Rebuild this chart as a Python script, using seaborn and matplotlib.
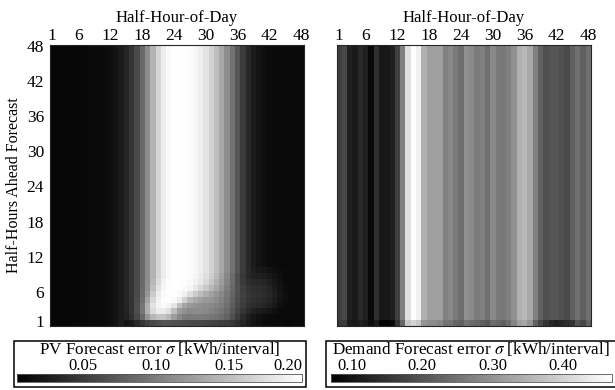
#----------------------------------------------------
"""
Forecast error spread of PV generation and demand,
per half-hour of day and per forecast horizon.
"""
#----------------------------------------------------
import numpy as np
import pandas as pd
import matplotlib
matplotlib.use('Agg')
import matplotlib.pyplot as plt
from matplotlib.patches import Rectangle
import seaborn as sns

#----------------------------------------------------
half_hours = list(range(1, 49))
tick_labels = [1, 6, 12, 18, 24, 30, 36, 42, 48]

# PV sigma per half-hour column, horizons 11..48 (no dependence on horizon)
pv_profile = [0.010, 0.010, 0.010, 0.010, 0.011, 0.011, 0.011, 0.012, 0.012, 0.013,
              0.014, 0.016, 0.020, 0.026, 0.034, 0.045, 0.062, 0.085, 0.112, 0.142,
              0.168, 0.186, 0.195, 0.199, 0.200, 0.199, 0.197, 0.193, 0.187, 0.178,
              0.165, 0.150, 0.133, 0.113, 0.092, 0.070, 0.050, 0.036, 0.026, 0.020,
              0.016, 0.014, 0.013, 0.012, 0.012, 0.012, 0.012, 0.012]

# PV sigma for horizons 1..10 (row 1 first), half-hours 15..46
pv_near_cols = list(range(15, 47))
pv_near = [
    [.020, .025, .035, .045, .055, .060, .065, .068, .068, .066, .065, .063, .062, .060, .060, .058,
     .056, .055, .052, .050, .046, .040, .033, .025, .020, .016, .014, .013, .012, .012, .011, .011],
    [.030, .042, .060, .085, .120, .145, .155, .155, .145, .125, .110, .100, .098, .100, .100, .098,
     .095, .092, .088, .080, .066, .052, .038, .028, .022, .018, .015, .014, .013, .012, .012, .012],
    [.032, .045, .065, .095, .140, .172, .185, .185, .175, .150, .125, .115, .110, .112, .112, .110,
     .105, .100, .095, .085, .072, .058, .046, .037, .031, .027, .024, .021, .017, .014, .013, .012],
    [.033, .045, .064, .095, .140, .178, .192, .196, .192, .180, .150, .130, .122, .118, .115, .112,
     .110, .105, .100, .090, .076, .062, .051, .043, .039, .036, .033, .029, .023, .017, .014, .013],
    [.034, .045, .063, .090, .130, .170, .190, .197, .198, .195, .185, .165, .145, .135, .128, .122,
     .118, .112, .105, .094, .079, .064, .053, .046, .042, .040, .037, .033, .027, .020, .015, .013],
    [.034, .045, .062, .088, .120, .160, .185, .196, .199, .199, .196, .188, .175, .160, .148, .138,
     .128, .120, .110, .097, .082, .066, .054, .047, .043, .041, .039, .035, .028, .021, .016, .013],
    [.034, .045, .062, .086, .115, .150, .178, .193, .198, .200, .200, .197, .192, .182, .170, .158,
     .145, .132, .118, .102, .085, .068, .053, .045, .041, .039, .037, .032, .026, .020, .015, .013],
    [.034, .045, .062, .085, .113, .145, .172, .190, .197, .200, .200, .199, .196, .190, .182, .170,
     .156, .140, .124, .106, .087, .066, .050, .040, .037, .035, .033, .028, .023, .018, .014, .013],
    [.034, .045, .062, .085, .112, .142, .168, .186, .195, .199, .200, .199, .197, .192, .185, .175,
     .162, .146, .128, .108, .088, .066, .048, .036, .031, .029, .027, .024, .020, .016, .013, .012],
    [.034, .045, .062, .085, .112, .142, .168, .186, .195, .199, .200, .199, .197, .193, .187, .178,
     .165, .150, .133, .113, .092, .070, .050, .036, .028, .024, .022, .019, .016, .014, .013, .012],
]

# demand sigma per half-hour column, horizons 2..48
demand_profile = [0.170, 0.183, 0.120, 0.111, 0.133, 0.120, 0.083, 0.145, 0.108, 0.108,
                  0.120, 0.170, 0.271, 0.421, 0.470, 0.446, 0.346, 0.321, 0.321, 0.321,
                  0.271, 0.283, 0.261, 0.243, 0.296, 0.286, 0.261, 0.271, 0.246, 0.286,
                  0.261, 0.258, 0.271, 0.296, 0.346, 0.359, 0.334, 0.271, 0.221, 0.195,
                  0.203, 0.203, 0.195, 0.186, 0.221, 0.246, 0.221, 0.246]
# demand sigma, one step ahead
demand_row1 = [0.160, 0.165, 0.115, 0.110, 0.120, 0.110, 0.090, 0.110, 0.075, 0.075,
               0.085, 0.150, 0.230, 0.380, 0.400, 0.380, 0.300, 0.290, 0.290, 0.280,
               0.250, 0.250, 0.230, 0.220, 0.250, 0.240, 0.230, 0.220, 0.210, 0.240,
               0.230, 0.220, 0.240, 0.280, 0.320, 0.330, 0.300, 0.220, 0.180, 0.150,
               0.130, 0.120, 0.130, 0.140, 0.150, 0.200, 0.180, 0.220]

pv_range = (0.005, 0.20)
pv_ticks = [0.05, 0.10, 0.15, 0.20]
demand_range = (0.07, 0.47)
demand_ticks = [0.10, 0.20, 0.30, 0.40]


#----------------------------------------------------
def build_frames():
    pv = np.tile(np.array(pv_profile), (48, 1))
    for i, row in enumerate(pv_near):
        pv[i, pv_near_cols[0] - 1:pv_near_cols[-1]] = row
    dem = np.tile(np.array(demand_profile), (48, 1))
    dem[0, :] = demand_row1
    # horizon 48 on top
    pv_df = pd.DataFrame(pv, index=half_hours, columns=half_hours).iloc[::-1]
    dem_df = pd.DataFrame(dem, index=half_hours, columns=half_hours).iloc[::-1]
    return pv_df, dem_df


def draw_panel(fig, ax, cax, df, vrange, ticks, label, box, show_y, squeeze_last):
    sns.heatmap(df, ax=ax, cmap='gray', vmin=vrange[0], vmax=vrange[1],
                cbar_ax=cax, cbar_kws={'orientation': 'horizontal'})
    ax.set_xticks([t - 0.5 for t in tick_labels])
    ax.set_xticklabels(tick_labels, rotation=0, fontsize=12.5)
    ax.xaxis.set_ticks_position('top')
    ax.xaxis.set_label_position('top')
    ax.set_xlabel('Half-Hour-of-Day', labelpad=4, fontsize=12)
    ax.tick_params(length=0, pad=1)
    if show_y:
        ax.set_yticks([48 - t + 0.5 for t in tick_labels])
        ax.set_yticklabels(tick_labels, rotation=0, fontsize=12.5)
        ax.tick_params(axis='y', pad=4)
        ax.set_ylabel('Half-Hours Ahead Forecast', labelpad=3, fontsize=11.5)
    else:
        ax.set_yticks([])
        ax.set_ylabel('')
    for s in ax.spines.values():
        s.set_visible(True)
        s.set_linewidth(0.8)

    cbar = ax.collections[0].colorbar
    cbar.set_ticks(ticks)
    cbar.set_ticklabels([f'{t:.2f}' for t in ticks])
    cax.xaxis.set_ticks_position('top')
    cax.tick_params(length=0, pad=0, labelsize=12)
    if squeeze_last:
        cax.get_xticklabels()[-1].set_horizontalalignment('right')
    cbar.outline.set_linewidth(0.6)
    cbar.outline.set_edgecolor('#555555')

    x0, y0, w, h = box
    fig.add_artist(Rectangle((x0, y0), w, h, transform=fig.transFigure,
                             fill=False, lw=1.1, ec='black'))
    fig.text(x0 + w / 2, 1 - 348.5 / 390, label, ha='center', va='center', fontsize=12.3)


#----------------------------------------------------
def main():
    sns.set_theme(style='white')
    plt.rcParams['font.family'] = ['Liberation Serif', 'DejaVu Serif']
    plt.rcParams['mathtext.fontset'] = 'stix'
    plt.rcParams['font.size'] = 12
    plt.rcParams['text.color'] = 'black'
    plt.rcParams['xtick.color'] = 'black'
    plt.rcParams['ytick.color'] = 'black'
    plt.rcParams['axes.labelcolor'] = 'black'

    pv_df, dem_df = build_frames()

    W, H = 615, 390
    fig = plt.figure(figsize=(W / 100, H / 100), dpi=100)
    ax_pv = fig.add_axes([49.5 / W, 1 - 326 / H, 254.5 / W, 281 / H])
    ax_dm = fig.add_axes([336.5 / W, 1 - 326 / H, 254.5 / W, 281 / H])
    cax_pv = fig.add_axes([16.7 / W, 1 - 381.5 / H, 285.3 / W, 7.5 / H])
    cax_dm = fig.add_axes([330.7 / W, 1 - 381.5 / H, 281.3 / W, 7.5 / H])

    draw_panel(fig, ax_pv, cax_pv, pv_df, pv_range, pv_ticks,
               r'PV Forecast error $\sigma$ [kWh/interval]',
               (14 / W, 1 - 387 / H, 292 / W, 46 / H), True, True)
    draw_panel(fig, ax_dm, cax_dm, dem_df, demand_range, demand_ticks,
               r'Demand Forecast error $\sigma$ [kWh/interval]',
               (326 / W, 1 - 387 / H, 290 / W, 46 / H), False, False)

    fig.savefig('out.png', dpi=100)


#----------------------------------------------------
if __name__ == '__main__':
    main()
